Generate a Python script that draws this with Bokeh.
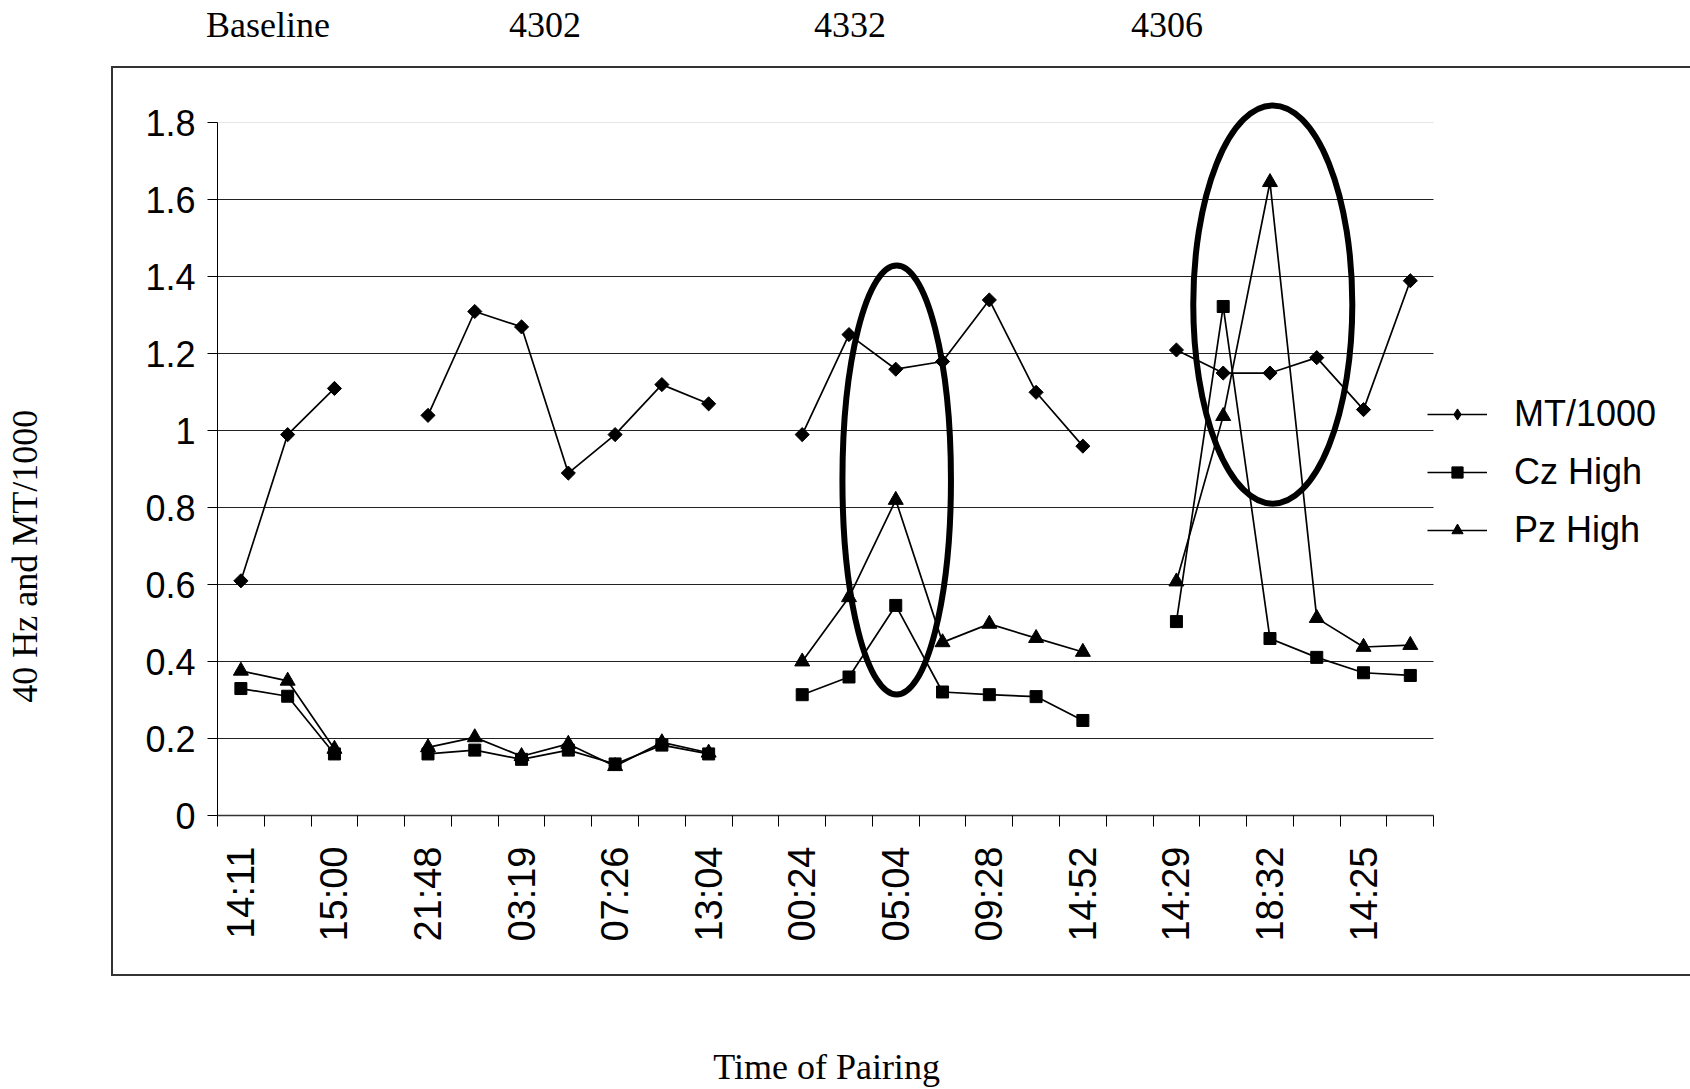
import math
import numpy as np
from bokeh.plotting import figure
from bokeh.models import (FixedTicker, Grid, Legend, LegendItem, Range1d, LinearAxis,
                          InlineStyleSheet)
from bokeh.embed import file_html
from bokeh.resources import INLINE

# ---------------- data ----------------
# 26 category slots; None marks the empty slot between subject groups
mt_1000 = [0.61, 0.99, 1.11, None, 1.04, 1.31, 1.27, 0.89, 0.99, 1.12, 1.07, None,
           0.99, 1.25, 1.16, 1.18, 1.34, 1.10, 0.96, None,
           1.21, 1.15, 1.15, 1.19, 1.055, 1.39]
cz_high = [0.33, 0.31, 0.16, None, 0.16, 0.17, 0.146, 0.17, 0.134, 0.183, 0.16, None,
           0.314, 0.36, 0.546, 0.321, 0.314, 0.309, 0.247, None,
           0.504, 1.323, 0.46, 0.411, 0.371, 0.364]
pz_high = [0.376, 0.35, 0.173, None, 0.177, 0.203, 0.154, 0.186, 0.128, 0.19, 0.163, None,
           0.40, 0.567, 0.82, 0.45, 0.498, 0.461, 0.425, None,
           0.608, 1.038, 1.646, 0.513, 0.438, 0.443]
tick_labels = ["14:11", "15:00", "21:48", "03:19", "07:26", "13:04", "00:24",
               "05:04", "09:28", "14:52", "14:29", "18:32", "14:25"]
group_names = ["Baseline", "4302", "4332", "4306"]
group_pos = [0.58, 6.5, 13.02, 19.8]
y_ticks = [0, 0.2, 0.4, 0.6, 0.8, 1, 1.2, 1.4, 1.6, 1.8]
y_tick_text = ["0", "0.2", "0.4", "0.6", "0.8", "1", "1.2", "1.4", "1.6", "1.8"]
x_title, x_title_pos = "Time of Pairing", 12.52
y_title, y_title_pos = "40 Hz and MT/1000", 0.674
# highlight ellipses (category position, value centre, width in slots, height in value)
ell_x = [14.02, 22.06]
ell_y = [0.872, 1.328]
ell_w = [2.32, 3.4]
ell_h = [1.115, 1.035]

n = len(mt_1000)
x = np.arange(n, dtype=float)
def arr(v):
    return np.array([np.nan if a is None else a for a in v], dtype=float)

W, H = 1690, 1089
SANS = "Liberation Sans"
SERIF = "Liberation Serif"

# outer chart-area border (Excel chart frame), drawn by CSS around the plot content
box_css = InlineStyleSheet(css="""
:host { position: relative; }
:host::after {
  content: "";
  position: absolute;
  left: 111px; top: 66px; width: 1579px; height: 910px;
  box-sizing: border-box;
  border: 2px solid #333333; border-right: none;
  pointer-events: none;
}
""")

x_end = 30.99   # frame extends to the right so the legend sits inside it
p = figure(width=W, height=H, output_backend="svg", toolbar_location=None,
           x_range=Range1d(-0.5, x_end), y_range=Range1d(0, 1.9),
           min_border_left=217, min_border_right=0,
           min_border_top=84, min_border_bottom=274,
           stylesheets=[box_css])
p.outline_line_color = None
p.background_fill_color = "white"
p.border_fill_color = "white"

# grids (limited to the category span)
p.xgrid.visible = False
p.ygrid.visible = False
p.add_layout(Grid(dimension=1, ticker=FixedTicker(ticks=y_ticks[1:-1]),
                  cross_bounds=(-0.5, n - 0.5),
                  grid_line_color="#222222", grid_line_width=1))
p.add_layout(Grid(dimension=1, ticker=FixedTicker(ticks=[y_ticks[-1]]),
                  cross_bounds=(-0.5, n - 0.5),
                  grid_line_color="#e6e6e6", grid_line_width=1))

# y axis
ya = p.yaxis[0]
ya.ticker = FixedTicker(ticks=y_ticks, minor_ticks=[])
ya.major_label_overrides = {t: s for t, s in zip(y_ticks, y_tick_text)}
ya.bounds = (0, 1.8)
ya.major_tick_out = 10
ya.major_tick_in = 0
ya.minor_tick_line_color = None
ya.major_label_standoff = 12
ya.major_label_text_font = SANS
ya.major_label_text_font_size = "36px"
ya.major_label_text_color = "black"
ya.axis_line_color = "black"
ya.major_tick_line_color = "black"

# y title (placed by value, the way the original chart offsets it)
y_title_axis = LinearAxis(ticker=FixedTicker(ticks=[y_title_pos], minor_ticks=[]),
                          major_label_overrides={y_title_pos: y_title},
                          axis_line_color=None, major_tick_line_color=None,
                          minor_tick_line_color=None, major_tick_out=0, major_tick_in=0,
                          major_label_orientation="parallel",
                          major_label_standoff=97, major_label_text_font=SERIF,
                          major_label_text_font_size="36px", major_label_text_color="black")
p.add_layout(y_title_axis, "left")

# x axis
xa = p.xaxis[0]
label_pos = [2 * i for i in range(len(tick_labels))]
xa.ticker = FixedTicker(ticks=label_pos, minor_ticks=[i - 0.5 for i in range(n + 1)])
xa.major_label_overrides = {t: s for t, s in zip(label_pos, tick_labels)}
xa.bounds = (-0.5, n - 0.5)
xa.major_tick_out = 0
xa.major_tick_in = 0
xa.minor_tick_out = 11
xa.minor_tick_in = 0
xa.minor_tick_line_color = "black"
xa.major_label_orientation = math.pi / 2
xa.major_label_standoff = 20
xa.major_label_text_font = SANS
xa.major_label_text_font_size = "38px"
xa.major_label_text_color = "black"
xa.axis_line_color = "#333333"
xa.axis_line_width = 1.5

# x title, centred under the category span
x_title_axis = LinearAxis(ticker=FixedTicker(ticks=[x_title_pos], minor_ticks=[]),
                          major_label_overrides={x_title_pos: x_title},
                          axis_line_color=None, major_tick_line_color=None,
                          minor_tick_line_color=None, major_tick_out=0, major_tick_in=0,
                          major_label_standoff=102, major_label_text_font=SERIF,
                          major_label_text_font_size="36px", major_label_text_color="black")
p.add_layout(x_title_axis, "below")

# group names above the chart area
top_axis = LinearAxis(ticker=FixedTicker(ticks=group_pos, minor_ticks=[]),
                      major_label_overrides={t: s for t, s in zip(group_pos, group_names)},
                      axis_line_color=None, major_tick_line_color=None,
                      minor_tick_line_color=None, major_tick_out=0, major_tick_in=0,
                      major_label_standoff=40, major_label_text_font=SERIF,
                      major_label_text_font_size="36px", major_label_text_color="black")
p.add_layout(top_axis, "above")

# series
r_mt_l = p.line(x, arr(mt_1000), line_color="black", line_width=1.7)
r_mt_m = p.scatter(x, arr(mt_1000), marker="square", angle=math.pi / 4, size=10,
                   fill_color="black", line_color="black")
r_cz_l = p.line(x, arr(cz_high), line_color="black", line_width=1.7)
r_cz_m = p.scatter(x, arr(cz_high), marker="square", size=12,
                   fill_color="black", line_color="black")
r_pz_l = p.line(x, arr(pz_high), line_color="black", line_width=1.7)
r_pz_m = p.scatter(x, arr(pz_high), marker="triangle", size=15,
                   fill_color="black", line_color="black")
# legend-only diamond (legend glyphs are drawn unrotated)
r_mt_key = p.scatter([np.nan], [np.nan], marker="diamond", size=12,
                     fill_color="black", line_color="black")

# highlight ellipses
p.ellipse(x=ell_x, y=ell_y, width=ell_w, height=ell_h, fill_color=None,
          line_color="black", line_width=6)

legend = Legend(items=[
    LegendItem(label="MT/1000", renderers=[r_mt_l, r_mt_key]),
    LegendItem(label="Cz High", renderers=[r_cz_l, r_cz_m]),
    LegendItem(label="Pz High", renderers=[r_pz_l, r_pz_m]),
], location=(1210, 264), orientation="vertical")
legend.border_line_color = None
legend.background_fill_alpha = 0
legend.padding = 0
legend.margin = 0
legend.glyph_width = 60
legend.glyph_height = 28
legend.label_height = 36
legend.spacing = 16
legend.label_standoff = 27
legend.label_text_font = SANS
legend.label_text_font_size = "36px"
legend.label_text_color = "black"
p.add_layout(legend, "center")

open("out.html", "w").write(file_html(p, INLINE))
